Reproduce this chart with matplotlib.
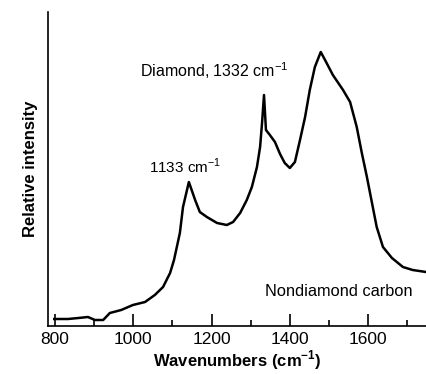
import matplotlib
matplotlib.use("Agg")
import matplotlib.pyplot as plt

plt.rcParams['font.family'] = ['Liberation Sans', 'DejaVu Sans']
plt.rcParams['mathtext.fontset'] = 'custom'
plt.rcParams['mathtext.rm'] = 'Liberation Sans'

# Raman spectrum (relative intensity, arbitrary units)
wavenumber = [798, 833, 860, 884, 902, 923, 940, 969, 999, 1030, 1055, 1076,
              1094, 1104, 1119, 1127, 1142, 1158, 1170, 1188, 1214, 1239, 1255,
              1273, 1290, 1303, 1316, 1324, 1329, 1334, 1339, 1349, 1362, 1375,
              1387, 1400, 1413, 1426, 1439, 1451, 1464, 1479, 1490, 1510, 1536,
              1554, 1571, 1584, 1597, 1610, 1622, 1638, 1661, 1689, 1714, 1748]
intensity = [7, 7, 8, 9, 6, 6, 13, 16, 21, 24, 31, 39,
             53, 66, 93, 119, 144, 126, 114, 109, 103, 101, 104,
             113, 126, 139, 159, 179, 203, 231, 196, 191, 184, 172,
             163, 158, 164, 186, 209, 236, 259, 274, 266, 251, 236,
             224, 199, 173, 149, 123, 99, 79, 68, 59, 56, 54]

major_ticks = [800, 1000, 1200, 1400, 1600]
minor_ticks = [900, 1100, 1300, 1500, 1700]

fig = plt.figure(figsize=(4.26, 3.74), dpi=100)
ax = fig.add_axes([48/426, 48/374, 378/426, 314/374])

ax.plot(wavenumber, intensity, color='black', lw=1.8, solid_joinstyle='round')

ax.set_xlim(782, 1748)
ax.set_ylim(0, 314)

ax.spines['top'].set_visible(False)
ax.spines['right'].set_visible(False)
ax.spines['left'].set_linewidth(1.2)
ax.spines['bottom'].set_linewidth(1.2)

ax.set_xticks(major_ticks)
ax.set_xticks(minor_ticks, minor=True)
ax.tick_params(axis='x', which='major', direction='in', length=9, width=1.2,
               labelsize=12.5, pad=4)
ax.tick_params(axis='x', which='minor', direction='in', length=4, width=1.2)
ax.set_yticks([])

ax.set_xlabel('Wavenumbers (cm$^{\\mathregular{-1}}$)', fontsize=12,
              fontweight='bold', labelpad=1)
ax.set_ylabel('Relative intensity', fontsize=12, fontweight='bold', labelpad=7)

ax.text(1133, 150, '1133 cm$^{\\mathregular{-1}}$', fontsize=11, ha='center', va='bottom')
ax.text(1206, 245, 'Diamond, 1332 cm$^{\\mathregular{-1}}$', fontsize=11.5,
        ha='center', va='bottom')
ax.text(1336, 34, 'Nondiamond carbon', fontsize=11.8, ha='left', va='center')

fig.savefig('out.png', dpi=100)
